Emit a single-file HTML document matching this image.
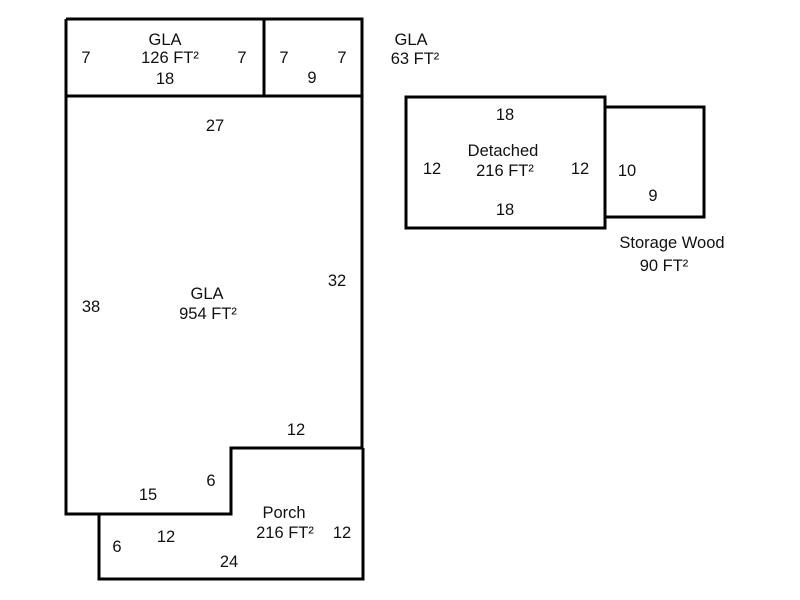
<!DOCTYPE html>
<html><head><style>body{margin:0;background:#fff}svg{display:block}text{font-family:"Liberation Sans",Arial,sans-serif;font-size:16.5px;fill:#111;text-anchor:middle}</style></head><body>
<svg width="800" height="600" viewBox="0 0 800 600" xmlns="http://www.w3.org/2000/svg">
<g fill="none" stroke="#000" stroke-width="3">
<polyline points="66,19 362,19 362,448 231,448 231,514 66,514 66,19"/>
<line x1="66" y1="96" x2="362" y2="96"/>
<line x1="264" y1="19" x2="264" y2="96"/>
<polyline points="99,514 99,579 363,579 363,448"/>
<rect x="406" y="97" width="199" height="131"/>
<polyline points="605,107 704,107 704,217 605,217"/>
</g>
<text x="86" y="63">7</text>
<text x="165" y="45">GLA</text>
<text x="170" y="63">126 FT²</text>
<text x="165" y="84">18</text>
<text x="242" y="63">7</text>
<text x="284" y="63">7</text>
<text x="342" y="63">7</text>
<text x="312" y="83">9</text>
<text x="411" y="45">GLA</text>
<text x="415" y="64">63 FT²</text>
<text x="215" y="131">27</text>
<text x="207" y="299">GLA</text>
<text x="208" y="319">954 FT²</text>
<text x="91" y="312">38</text>
<text x="337" y="286">32</text>
<text x="296" y="435">12</text>
<text x="211" y="486">6</text>
<text x="148" y="500">15</text>
<text x="284" y="518">Porch</text>
<text x="285" y="538">216 FT²</text>
<text x="342" y="538">12</text>
<text x="166" y="542">12</text>
<text x="117" y="552">6</text>
<text x="229" y="567">24</text>
<text x="505" y="120">18</text>
<text x="503" y="156">Detached</text>
<text x="505" y="176">216 FT²</text>
<text x="432" y="174">12</text>
<text x="580" y="174">12</text>
<text x="505" y="215">18</text>
<text x="627" y="176">10</text>
<text x="653" y="201">9</text>
<text x="672" y="248">Storage Wood</text>
<text x="664" y="271">90 FT²</text>
</svg>
</body></html>
